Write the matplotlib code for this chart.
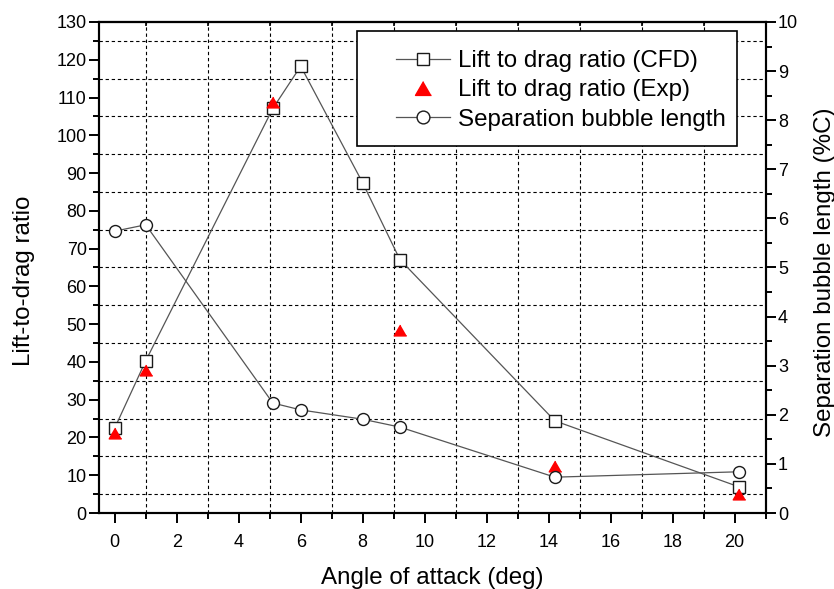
import matplotlib
matplotlib.use('Agg')
import matplotlib.pyplot as plt
from matplotlib.ticker import MultipleLocator
from matplotlib.lines import Line2D
from matplotlib.patches import Rectangle

plt.rcParams['font.family'] = ['Liberation Sans', 'DejaVu Sans']

# ---- data ----
aoa_cfd = [0, 1, 5.1, 6, 8, 9.2, 14.2, 20.15]
ld_cfd = [22.5, 40.3, 107.1, 118.3, 87.4, 67.1, 24.4, 6.9]
aoa_exp = [0, 1, 5.1, 9.2, 14.2, 20.15]
ld_exp = [21.1, 37.9, 108.8, 48.4, 12.4, 5.1]
aoa_bub = [0, 1, 5.1, 6, 8, 9.2, 14.2, 20.15]
bubble = [5.74, 5.87, 2.24, 2.10, 1.91, 1.75, 0.73, 0.84]

labels = ['Lift to drag ratio (CFD)', 'Lift to drag ratio (Exp)', 'Separation bubble length']

line_col = '#555555'
edge_col = '#1a1a1a'
tri = [(0, 0.433), (-0.5, -0.433), (0.5, -0.433)]

fig = plt.figure(figsize=(8.34, 5.89), dpi=100)
ax = fig.add_axes([0.119, 0.129, 0.799, 0.8337])
ax2 = ax.twinx()

ax.plot(aoa_cfd, ld_cfd, color=line_col, lw=0.9, marker='s', ms=9.2,
        mfc='white', mec=edge_col, mew=1.0, zorder=3)
ax.plot(aoa_exp, ld_exp, linestyle='none', marker=tri, ms=9.0,
        color='red', mec='red', zorder=4)
ax2.plot(aoa_bub, bubble, color=line_col, lw=0.9, marker='o', ms=8.6,
         mfc='white', mec=edge_col, mew=1.0, zorder=3)

ax.set_xlim(-0.5, 21)
ax.set_ylim(0, 130)
ax2.set_ylim(0, 10)

ax.xaxis.set_major_locator(MultipleLocator(2))
ax.xaxis.set_minor_locator(MultipleLocator(1))
ax.yaxis.set_major_locator(MultipleLocator(10))
ax.yaxis.set_minor_locator(MultipleLocator(5))
ax2.yaxis.set_major_locator(MultipleLocator(1))
ax2.yaxis.set_minor_locator(MultipleLocator(0.5))

# grid on minor ticks only
ax.grid(which='minor', color='black', linestyle=(0, (3, 2.5)), linewidth=0.8)
ax.grid(which='major', visible=False)
ax.set_axisbelow(True)

for a in (ax, ax2):
    for s in a.spines.values():
        s.set_linewidth(1.5)

ax.tick_params(axis='both', which='major', direction='out', length=7, width=1.4,
               labelsize=13)
ax.tick_params(axis='both', which='minor', direction='out', length=4, width=1.4)
ax.tick_params(axis='y', which='both', pad=2)
ax.tick_params(axis='x', which='major', pad=8)
ax2.tick_params(axis='y', which='major', direction='out', length=7, width=1.4,
                labelsize=13, pad=2)
ax2.tick_params(axis='y', which='minor', direction='out', length=4, width=1.4)

# top ticks (inward, at odd positions)
top = ax.secondary_xaxis('top')
top.xaxis.set_major_locator(MultipleLocator(2, offset=1))
top.tick_params(direction='in', length=3, width=1.2, labeltop=False)
top.spines['top'].set_linewidth(1.5)

ax.set_xlabel('Angle of attack (deg)', fontsize=17.4)
ax.set_ylabel('Lift-to-drag ratio', fontsize=17.4)
ax2.set_ylabel('Separation bubble length (%C)', fontsize=17.4)
ax.xaxis.set_label_coords(0.5, -0.11)
ax.yaxis.set_label_coords(-0.097, 0.472)
ax2.yaxis.set_label_coords(1.072, 0.49)

# legend frame
rect = Rectangle((0.3867, 0.7475), 0.957 - 0.3867, 0.9823 - 0.7475,
                 transform=ax2.transAxes, facecolor='white', edgecolor='black',
                 lw=1.2, zorder=10)
ax2.add_patch(rect)

handles = [
    Line2D([], [], color=line_col, lw=0.9, marker='s', ms=9.2, mfc='white',
           mec=edge_col, mew=1.0),
    Line2D([], [], linestyle='none', marker=tri, ms=11.5, color='red', mec='red'),
    Line2D([], [], color=line_col, lw=0.9, marker='o', ms=9.2, mfc='white',
           mec=edge_col, mew=1.0),
]
leg = ax2.legend(handles, labels, loc='upper left', bbox_to_anchor=(0.4448, 0.943),
                 frameon=False, fontsize=17.4, borderpad=0, handlelength=2.23,
                 handletextpad=0.33, labelspacing=0.31, borderaxespad=0)
leg.set_zorder(11)

fig.savefig('out.png', dpi=100)
